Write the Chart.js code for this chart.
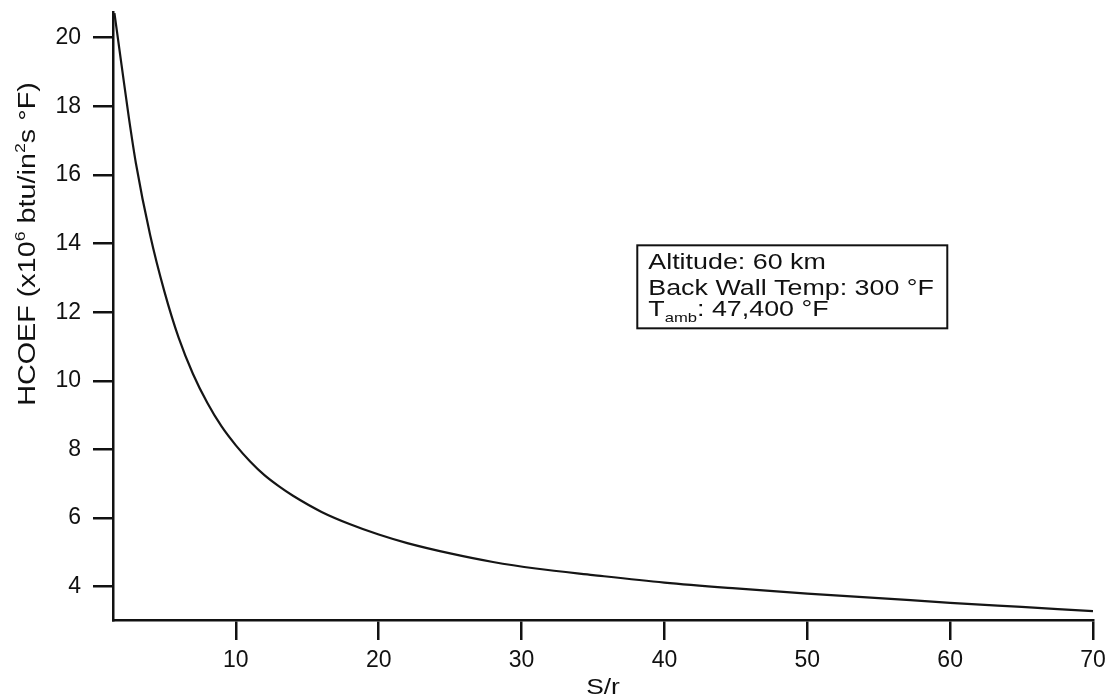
<!DOCTYPE html>
<html>
<head>
<meta charset="utf-8">
<script src="https://cdn.jsdelivr.net/npm/chart.js@4.4.1/dist/chart.umd.min.js"></script>
<style>
    html, body { margin: 0; padding: 0; background: #fff; }
    #wrap { width: 1117px; height: 700px; }
</style>
</head>
<body>
<div id="wrap"><canvas id="hcoefChart"></canvas></div>
<script>
// --- data ---
const sOverR = [1.5, 2, 2.5, 3, 4, 5, 6, 7, 8, 9, 10, 11, 12, 13, 14, 16, 18, 20, 22, 25, 28, 31, 35, 40, 45, 50, 55, 60, 65, 70];
const hcoef = [20.72, 19.2, 17.7, 16.35, 14.25, 12.6, 11.25, 10.2, 9.36, 8.67, 8.12, 7.65, 7.25, 6.93, 6.65, 6.18, 5.82, 5.52, 5.27, 4.97, 4.72, 4.53, 4.34, 4.12, 3.95, 3.8, 3.67, 3.53, 3.41, 3.29];
const xTickValues = [10, 20, 30, 40, 50, 60, 70];
const yTickValues = [4, 6, 8, 10, 12, 14, 16, 18, 20];
const xTitle = "S/r";
const yTitleParts = [["HCOEF (x10", 0], ["6", 1], [" btu/in", 0], ["2", 1], ["s °F)", 0]];
const noteLines = [
    [["Altitude: 60 km", 0]],
    [["Back Wall Temp: 300 °F", 0]],
    [["T", 0], ["amb", -1], [": 47,400 °F", 0]]
];

const FONT = '"Liberation Sans", Arial, Helvetica, sans-serif';

// 글자 조각(위첨자/아래첨자 포함) 폭 계산
function measureRich(ctx, parts, size) {
    let w = 0;
    parts.forEach(([t, k]) => {
        ctx.font = `${k === 0 ? size : size * 0.62}px ${FONT}`;
        w += ctx.measureText(t).width;
    });
    return w;
}

function drawRich(ctx, parts, x, y, size, stretch) {
    ctx.save();
    ctx.translate(x, y);
    ctx.scale(stretch, 1);
    ctx.fillStyle = "#111";
    ctx.textBaseline = "alphabetic";
    ctx.textAlign = "left";
    let cx = 0;
    parts.forEach(([t, k]) => {
        const fs = k === 0 ? size : size * 0.62;
        const dy = k === 1 ? -size * 0.45 : (k === -1 ? size * 0.28 : 0);
        ctx.font = `${fs}px ${FONT}`;
        ctx.fillText(t, cx, dy);
        cx += ctx.measureText(t).width;
    });
    ctx.restore();
}

const labelsPlugin = {
    id: "labels",
    afterDraw(chart) {
        const ctx = chart.ctx;
        const area = chart.chartArea;
        const xs = chart.scales.x, ys = chart.scales.y;

        // x title
        const xw = measureRich(ctx, [[xTitle, 0]], 22) * 1.2;
        drawRich(ctx, [[xTitle, 0]], (area.left + area.right) / 2 - xw / 2, 694, 22, 1.2);

        // y title (rotated)
        ctx.save();
        ctx.translate(35, 244);
        ctx.rotate(-Math.PI / 2);
        const yw = measureRich(ctx, yTitleParts, 23) * 1.25;
        drawRich(ctx, yTitleParts, -yw / 2, 0, 23, 1.25);
        ctx.restore();

        // note box
        const left = xs.getPixelForValue(38.1);
        const top = ys.getPixelForValue(13.95);
        ctx.save();
        ctx.strokeStyle = "#111";
        ctx.lineWidth = 2;
        ctx.strokeRect(left, top, 310, 83);
        ctx.restore();
        const baselines = [24, 50, 71];
        noteLines.forEach((parts, i) => {
            drawRich(ctx, parts, left + 11, top + baselines[i], 22, 1.22);
        });
    }
};

new Chart(document.getElementById("hcoefChart"), {
    type: "line",
    data: {
        datasets: [{
            data: sOverR.map((x, i) => ({ x: x, y: hcoef[i] })),
            borderColor: "#151515",
            borderWidth: 2.2,
            pointRadius: 0,
            fill: false,
            cubicInterpolationMode: "monotone"
        }]
    },
    options: {
        responsive: true,
        maintainAspectRatio: false,
        animation: false,
        layout: { padding: { top: 12, right: 24, left: 0, bottom: 0 } },
        plugins: {
            legend: { display: false },
            tooltip: { enabled: false }
        },
        scales: {
            x: {
                type: "linear",
                min: 1.4,
                max: 70,
                afterBuildTicks: s => { s.ticks = xTickValues.map(v => ({ value: v })); },
                afterFit: s => { s.height = 80; s.paddingLeft = 0; s.paddingRight = 0; },
                border: { display: true, color: "#111", width: 2.5 },
                grid: { drawOnChartArea: false, drawTicks: true, tickLength: 20, color: "#111", lineWidth: 2.5 },
                ticks: { color: "#111", font: { family: FONT, size: 23 }, padding: 7, maxRotation: 0 }
            },
            y: {
                type: "linear",
                min: 3.03,
                max: 20.75,
                afterBuildTicks: s => { s.ticks = yTickValues.map(v => ({ value: v })); },
                afterFit: s => { s.width = 113; s.paddingTop = 0; s.paddingBottom = 0; },
                border: { display: true, color: "#111", width: 2.5 },
                grid: { drawOnChartArea: false, drawTicks: true, tickLength: 20, color: "#111", lineWidth: 2.5 },
                ticks: { color: "#111", font: { family: FONT, size: 23 }, padding: 12 }
            }
        }
    },
    plugins: [labelsPlugin]
});
</script>
</body>
</html>
